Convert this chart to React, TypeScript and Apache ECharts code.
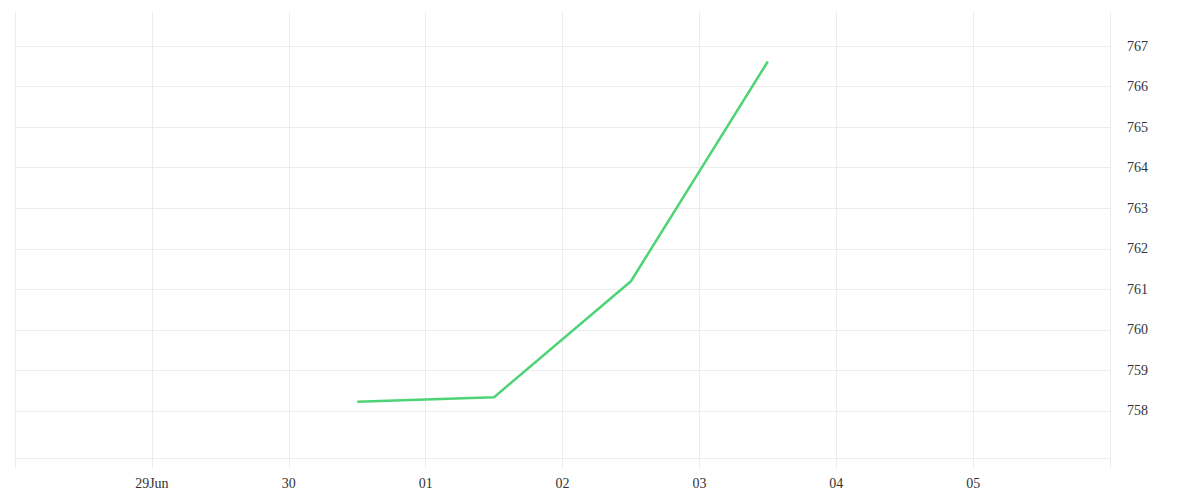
import React, { useEffect, useRef } from "react";
import * as echarts from "echarts";

const DAY = 86400000;
const axisStart = new Date(2024, 5, 28).getTime();
const axisEnd = new Date(2024, 6, 6).getTime();

const pointDates = [
  new Date(2024, 5, 30, 12).getTime(),
  new Date(2024, 6, 1, 12).getTime(),
  new Date(2024, 6, 2, 12).getTime(),
  new Date(2024, 6, 3, 12).getTime(),
];
const pointValues = [758.23, 758.34, 761.2, 766.62];

const xTickLabels = ["29Jun", "30", "01", "02", "03", "04", "05"];
const yTickValues = [758, 759, 760, 761, 762, 763, 764, 765, 766, 767];
const yMin = 756.84;
const yMax = 767.84;

export default function App() {
  const ref = useRef<HTMLDivElement>(null);
  useEffect(() => {
    if (!ref.current) return;
    const chart = echarts.init(ref.current, null, { renderer: "svg" });
    const gridColor = "#ececec";
    const textStyle = {
      fontFamily: "Liberation Serif",
      fontSize: 14,
      color: "#333",
    };
    chart.setOption({
      animation: false,
      grid: { left: 15, right: 90, top: 12, bottom: 42, containLabel: false },
      xAxis: {
        type: "time",
        min: axisStart,
        max: axisEnd,
        minInterval: DAY,
        maxInterval: DAY,
        axisLine: { show: true, lineStyle: { color: gridColor, width: 1 } },
        axisTick: { show: true, length: 10, lineStyle: { color: gridColor } },
        splitLine: { show: true, lineStyle: { color: gridColor, width: 1 } },
        axisLabel: {
          ...textStyle,
          margin: 18,
          showMinLabel: false,
          showMaxLabel: false,
          formatter: (v: number) => {
            const idx = Math.round((v - axisStart) / DAY) - 1;
            return idx >= 0 && idx < xTickLabels.length ? xTickLabels[idx] : "";
          },
        },
      },
      yAxis: {
        type: "value",
        position: "right",
        min: yMin,
        max: yMax,
        axisLine: { show: false },
        axisTick: { show: false, customValues: yTickValues },
        splitLine: { show: true, lineStyle: { color: gridColor, width: 1 } },
        axisLabel: {
          ...textStyle,
          margin: 17,
          align: "left",
          padding: [4, 0, 0, 0],
          customValues: yTickValues,
          formatter: (v: number) => String(Math.round(v)),
        },
      },
      series: [
        {
          type: "line",
          data: pointDates.map((d, i) => [d, pointValues[i]]),
          showSymbol: false,
          symbol: "none",
          lineStyle: { color: "#4ed376", width: 2.5 },
          itemStyle: { color: "#4ed376" },
        },
      ],
    });
    return () => chart.dispose();
  }, []);
  return (
    <div
      ref={ref}
      style={{ position: "absolute", left: 0, top: 0, width: 1200, height: 500, background: "#fff" }}
    />
  );
}
